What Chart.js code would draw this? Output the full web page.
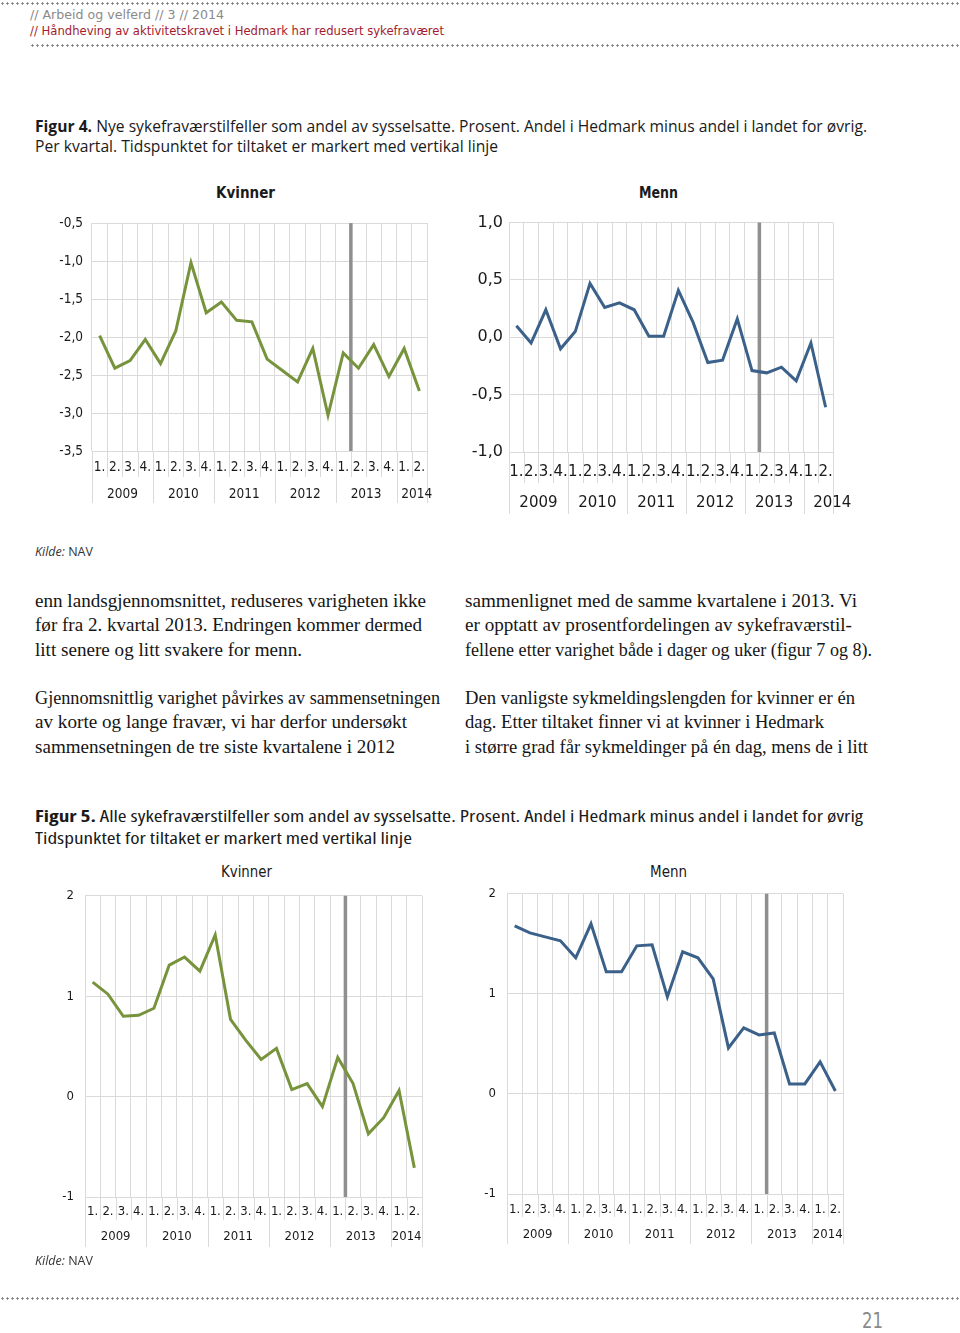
<!DOCTYPE html>
<html>
<head>
<meta charset="utf-8">
<script src="https://cdn.jsdelivr.net/npm/chart.js@4.4.1/dist/chart.umd.min.js"></script>
<style>
body{margin:0;width:960px;height:1333px;position:relative;background:#fff;overflow:hidden;color:#1a1a1a;font-family:"DejaVu Sans",sans-serif}
.abs{position:absolute;white-space:nowrap;transform-origin:0 0}
.dots{position:absolute;height:3px;background-image:radial-gradient(circle,#7d7d7d 0.9px,transparent 1.4px);background-size:5px 3px;background-repeat:repeat-x}
.cond{font-family:"DejaVu Sans Condensed","Liberation Sans Narrow","DejaVu Sans",sans-serif;font-stretch:condensed}
.cap{font-family:"Open Sans","Noto Sans",sans-serif;font-size:15.5px;line-height:20px;color:#1a1a1a}
.body{font-family:"Liberation Serif","Times New Roman",serif;font-size:19px;line-height:24.4px;color:#151515}
canvas{position:absolute}
</style>
</head>
<body>

<div class="dots" style="left:0;top:2px;width:960px"></div>
<div class="abs cond" data-w="194" style="left:30px;top:7px;font-size:13px;line-height:16px;color:#8a8a8a">// Arbeid og velferd // 3 // 2014</div>
<div class="abs cond" data-w="414" style="left:30px;top:23px;font-size:13px;line-height:16px;color:#a31b2f">// Håndheving av aktivitetskravet i Hedmark har redusert sykefraværet</div>
<div class="dots" style="left:30px;top:44px;width:930px"></div>

<div class="abs cap" data-w="832" style="left:35px;top:116px"><b>Figur 4.</b> Nye sykefraværstilfeller som andel av sysselsatte. Prosent. Andel i Hedmark minus andel i landet for øvrig.</div>
<div class="abs cap" data-w="463" style="left:35px;top:136px">Per kvartal. Tidspunktet for tiltaket er markert med vertikal linje</div>

<div class="abs cond" data-w="59" data-cx="245" style="top:183px;font-size:16px;line-height:20px;font-weight:bold">Kvinner</div>
<div class="abs cond" data-w="39" data-cx="658" style="top:183px;font-size:16px;line-height:20px;font-weight:bold">Menn</div>

<canvas id="c1"></canvas>
<canvas id="c2"></canvas>

<div class="abs" style="left:35px;top:544px;font-family:'Open Sans',sans-serif;font-size:12.5px;line-height:16px;color:#333"><i>Kilde:</i> NAV</div>

<div class="abs body" data-w="391" style="left:35px;top:589px">enn landsgjennomsnittet, reduseres varigheten ikke</div>
<div class="abs body" data-w="387" style="left:35px;top:613px">før fra 2. kvartal 2013. Endringen kommer dermed</div>
<div class="abs body" data-w="267" style="left:35px;top:638px">litt senere og litt svakere for menn.</div>
<div class="abs body" data-w="405" style="left:35px;top:686px">Gjennomsnittlig varighet påvirkes av sammensetningen</div>
<div class="abs body" data-w="372" style="left:35px;top:710px">av korte og lange fravær, vi har derfor undersøkt</div>
<div class="abs body" data-w="360" style="left:35px;top:735px">sammensetningen de tre siste kvartalene i 2012</div>

<div class="abs body" data-w="392" style="left:465px;top:589px">sammenlignet med de samme kvartalene i 2013. Vi</div>
<div class="abs body" data-w="387" style="left:465px;top:613px">er opptatt av prosentfordelingen av sykefraværstil-</div>
<div class="abs body" data-w="407" style="left:465px;top:638px">fellene etter varighet både i dager og uker (figur 7 og 8).</div>
<div class="abs body" data-w="390" style="left:465px;top:686px">Den vanligste sykmeldingslengden for kvinner er én</div>
<div class="abs body" data-w="359" style="left:465px;top:710px">dag. Etter tiltaket finner vi at kvinner i Hedmark</div>
<div class="abs body" data-w="403" style="left:465px;top:735px">i større grad får sykmeldinger på én dag, mens de i litt</div>

<div class="abs cap cond" data-w="828" style="left:35px;top:806px"><b>Figur 5.</b> Alle sykefraværstilfeller som andel av sysselsatte. Prosent. Andel i Hedmark minus andel i landet for øvrig</div>
<div class="abs cap cond" data-w="377" style="left:35px;top:828px">Tidspunktet for tiltaket er markert med vertikal linje</div>

<div class="abs cond" data-w="51" data-cx="246" style="top:862px;font-size:15px;line-height:20px">Kvinner</div>
<div class="abs cond" data-w="37" data-cx="668" style="top:862px;font-size:15px;line-height:20px">Menn</div>

<canvas id="c3"></canvas>
<canvas id="c4"></canvas>

<div class="abs" style="left:35px;top:1253px;font-family:'Open Sans',sans-serif;font-size:12.5px;line-height:16px;color:#333"><i>Kilde:</i> NAV</div>

<div class="dots" style="left:0;top:1297px;width:960px"></div>
<div class="abs cond" data-w="21" style="left:862px;top:1308px;font-size:22px;line-height:26px;color:#8a8a8a">21</div>

<script>
// kvartaler 2009-2014 (2. kvartal)
const quarters = ['1.', '2.', '3.', '4.', '1.', '2.', '3.', '4.', '1.', '2.', '3.', '4.',
                  '1.', '2.', '3.', '4.', '1.', '2.', '3.', '4.', '1.', '2.'];
const years = ['2009', '2010', '2011', '2012', '2013', '2014'];

// Figur 4: nye sykefraværstilfeller, Hedmark minus landet ellers
const fig4Kvinner = [-1.98, -2.41, -2.31, -2.03, -2.35, -1.92, -1.02, -1.68, -1.54, -1.78, -1.80,
                     -2.29, -2.44, -2.59, -2.15, -3.03, -2.21, -2.41, -2.10, -2.52, -2.15, -2.71];
const fig4Menn = [0.10, -0.05, 0.24, -0.10, 0.05, 0.47, 0.26, 0.30, 0.24, 0.01, 0.01,
                  0.41, 0.13, -0.22, -0.20, 0.16, -0.29, -0.31, -0.26, -0.38, -0.05, -0.61];
// Figur 5: alle sykefraværstilfeller
const fig5Kvinner = [1.14, 1.02, 0.80, 0.81, 0.88, 1.31, 1.39, 1.25, 1.61, 0.77, 0.56,
                     0.37, 0.48, 0.07, 0.13, -0.10, 0.39, 0.13, -0.37, -0.21, 0.06, -0.71];
const fig5Menn = [1.68, 1.61, 1.57, 1.53, 1.36, 1.70, 1.22, 1.22, 1.48, 1.49, 0.97,
                  1.42, 1.36, 1.15, 0.46, 0.66, 0.59, 0.61, 0.10, 0.10, 0.32, 0.03];

const fig4KvinnerTicks = [-0.5, -1.0, -1.5, -2.0, -2.5, -3.0, -3.5];
const fig4MennTicks = [1.0, 0.5, 0.0, -0.5, -1.0];
const fig5Ticks = [2, 1, 0, -1];

// tiltaket: mellom 1. og 2. kvartal 2013
const tiltak = 16.5;

const gridColor = '#dadada';
const green = '#77933c';
const blue = '#3b6089';

const commaFmt = v => v.toFixed(1).replace('.', ',');
const intFmt = v => String(v);

const quarterAxis = {
    id: 'quarterAxis',
    beforeDatasetsDraw(chart, args, o) {
        const x = chart.scales.x;
        const area = chart.chartArea;
        const ctx = chart.ctx;
        ctx.save();
        ctx.strokeStyle = gridColor;
        ctx.lineWidth = 1;
        for (let i = 0; i <= quarters.length; i++) {
            const px = Math.round(x.getPixelForValue(i - 0.5)) + 0.5;
            const yearEdge = i % 4 === 0 || i === quarters.length;
            ctx.beginPath();
            ctx.moveTo(px, area.bottom);
            ctx.lineTo(px, area.bottom + (yearEdge ? o.yearLen : o.quarterLen));
            ctx.stroke();
        }
        const tx = x.getPixelForValue(tiltak);
        ctx.strokeStyle = '#8f8f8f';
        ctx.lineWidth = o.markW;
        ctx.beginPath();
        ctx.moveTo(tx, area.top);
        ctx.lineTo(tx, area.bottom);
        ctx.stroke();

        ctx.fillStyle = '#1a1a1a';
        ctx.font = o.font;
        ctx.textAlign = 'center';
        ctx.textBaseline = 'middle';
        years.forEach((yr, k) => {
            const a = k * 4;
            const b = Math.min(k * 4 + 3, quarters.length - 1);
            let cx = (x.getPixelForValue(a) + x.getPixelForValue(b)) / 2;
            if (k === years.length - 1) cx += o.lastShift;
            ctx.fillText(yr, cx, area.bottom + o.yearY);
        });
        ctx.restore();
    }
};

function makeChart(id, values, color, ticks, fmt, c) {
    const canvas = document.getElementById(id);
    const left = c.plot[0] - c.yW;
    const top = c.plot[1] - 12;
    canvas.width = c.plot[2] + 24 - left;
    canvas.height = c.plot[3] - top + c.xH;
    canvas.style.left = left + 'px';
    canvas.style.top = top + 'px';

    new Chart(canvas, {
        type: 'line',
        data: {
            labels: quarters,
            datasets: [{
                data: values,
                borderColor: color,
                borderWidth: c.lineW,
                pointRadius: 0,
                tension: 0,
                fill: false,
            }],
        },
        options: {
            responsive: false,
            animation: false,
            devicePixelRatio: 1,
            layout: { padding: { top: 12, right: 24, left: 0, bottom: 0 } },
            plugins: {
                legend: { display: false },
                tooltip: { enabled: false },
                quarterAxis: {
                    yearLen: c.yearLen, quarterLen: c.quarterLen, yearY: c.yearY,
                    markW: c.markW, lastShift: c.lastShift,
                    font: c.xFont.size + 'px ' + c.xFont.family,
                },
            },
            scales: {
                x: {
                    offset: true,
                    grid: { offset: true, color: gridColor, drawTicks: false },
                    border: { display: false },
                    ticks: {
                        autoSkip: false, maxRotation: 0, minRotation: 0,
                        padding: c.xPad, color: '#1a1a1a', font: c.xFont,
                    },
                    afterFit: s => { s.height = c.xH; },
                },
                y: {
                    min: Math.min(...ticks),
                    max: Math.max(...ticks),
                    grid: { color: gridColor, drawTicks: false },
                    border: { display: false },
                    ticks: {
                        stepSize: Math.abs(ticks[0] - ticks[1]),
                        padding: c.yPad, color: '#1a1a1a', font: c.yFont,
                        callback: v => fmt(v),
                    },
                    afterFit: s => { s.width = c.yW; },
                },
            },
        },
        plugins: [quarterAxis],
    });
}

const condFam = '"DejaVu Sans Condensed", "DejaVu Sans", sans-serif';
const sansFam = '"DejaVu Sans", sans-serif';

makeChart('c1', fig4Kvinner, green, fig4KvinnerTicks, commaFmt, {
    plot: [92, 218, 427, 451], yW: 62, xH: 60, lineW: 3, markW: 3.5,
    xPad: 8, yPad: 9, yearY: 43, quarterLen: 26, yearLen: 52, lastShift: 5,
    xFont: { family: condFam, size: 13.5 }, yFont: { family: condFam, size: 13.5 },
});
makeChart('c2', fig4Menn, blue, fig4MennTicks, commaFmt, {
    plot: [509, 219, 833, 452], yW: 50, xH: 70, lineW: 3, markW: 3.5,
    xPad: 11, yPad: 6, yearY: 51, quarterLen: 31, yearLen: 62, lastShift: 14,
    xFont: { family: sansFam, size: 15 }, yFont: { family: sansFam, size: 16 },
});
makeChart('c3', fig5Kvinner, green, fig5Ticks, intFmt, {
    plot: [85, 889, 422, 1197], yW: 55, xH: 56, lineW: 3, markW: 3.5,
    xPad: 7, yPad: 11, yearY: 40, quarterLen: 23, yearLen: 50, lastShift: 0,
    xFont: { family: condFam, size: 13 }, yFont: { family: condFam, size: 13 },
});
makeChart('c4', fig5Menn, blue, fig5Ticks, intFmt, {
    plot: [507, 887, 843, 1194], yW: 55, xH: 56, lineW: 3, markW: 3.5,
    xPad: 8, yPad: 11, yearY: 41, quarterLen: 23, yearLen: 50, lastShift: 0,
    xFont: { family: condFam, size: 13 }, yFont: { family: condFam, size: 13 },
});

// strekk tekstlinjer til samme bredde som i originalen
document.querySelectorAll('[data-w]').forEach(el => {
    const w = el.getBoundingClientRect().width;
    const k = +el.dataset.w / w;
    el.style.transform = 'scaleX(' + k + ')';
    if (el.dataset.cx) el.style.left = (+el.dataset.cx - +el.dataset.w / 2) + 'px';
});
</script>
</body>
</html>
